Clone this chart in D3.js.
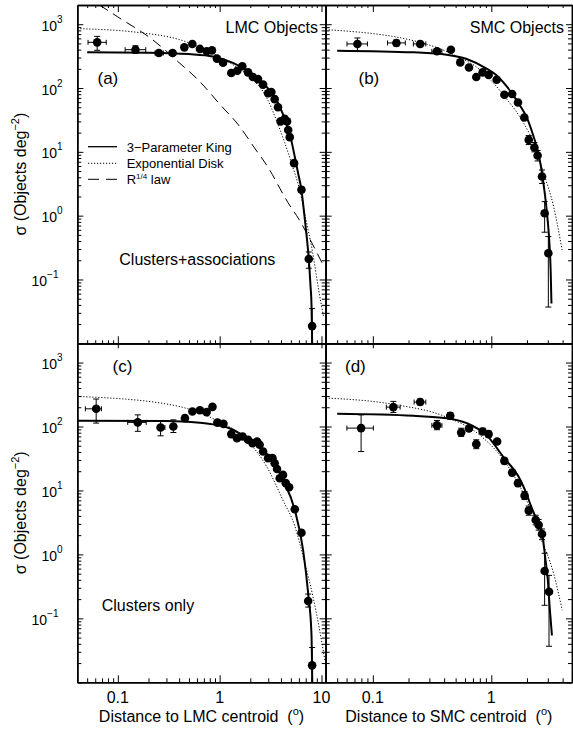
<!DOCTYPE html>
<html><head><meta charset="utf-8">
<script src="https://cdn.jsdelivr.net/npm/d3@7"></script>
<style>
body{margin:0;background:#fff}
svg{display:block}
text{font-family:"Liberation Sans",Arial,Helvetica,sans-serif;fill:#000}
</style>
</head><body>
<svg id="chart" width="573" height="731"></svg>
<script>
// ---------------- data ----------------
const lmcRange = [0.04, 11];
const smcRange = [0.04, 4.8];
const sigmaRange = [0.01, 2000];
const yMajor = [0.01, 0.1, 1, 10, 100, 1000];
const yLabelExps = [3, 2, 1, 0, -1];
const lmcMajor = [0.1, 1, 10];
const smcMajor = [0.1, 1];
const lmcTickLabels = ["0.1", "1", "10"];
const smcTickLabels = ["0.1", "1"];
const panelTags = ["(a)", "(b)", "(c)", "(d)"];
const regionTitles = ["LMC Objects", "SMC Objects"];
const sampleNotes = ["Clusters+associations", "Clusters only"];
const legendLabels = ["3\u2212Parameter King", "Exponential Disk", "R", "law"];
const xTitles = ["Distance to LMC centroid", "Distance to SMC centroid"];

// points: [r, sigma, sigmaLo, sigmaHi, rLo, rHi]
const aPts = [
  [0.0627,520,390,645,0.051,0.077],[0.149,399,350,460,0.118,0.188],[0.253,354,322,388,0.232,0.28],
  [0.345,354,326,384,0.32,0.37],[0.45,434],[0.539,490],[0.64,410],[0.745,376],[0.84,389],[0.94,289],
  [1.08,250],[1.30,172],[1.49,187],[1.67,219],[1.90,176],[2.12,149],[2.38,138],[2.67,113],[2.99,83],
  [3.22,86.5],[3.47,67],[3.74,50],[3.97,30],[4.35,33],[4.59,30],[4.71,22],[4.88,17],[5.38,6.65],
  [6.36,2.55,2.3,2.8],[7.5,0.209,0.15,0.27],[8.09,0.0186,0.004,0.035]
];
const bPts = [
  [0.0741,491,376,609,0.0605,0.090],[0.158,509,455,565,0.133,0.188],[0.251,491,445,540,0.22,0.28],
  [0.348,376,345,410,0.315,0.383],[0.456,399],[0.547,252],[0.648,210],[0.747,149],[0.845,176],
  [0.949,160],[1.11,135],[1.29,78.5],[1.50,80.5],[1.68,59.4],[1.90,34.5],[2.07,15.4,13,18],
  [2.31,11.7,10,14],[2.46,8.75,7.2,10.5],[2.68,4.1,3.2,5.2],[2.82,1.09,0.55,1.66],[3.03,0.257,0.037,0.47]
];
const cPts = [
  [0.0613,189,113,269,0.048,0.069],[0.157,116,84,152,0.125,0.19],[0.263,96.4,71.5,120,0.245,0.29],
  [0.351,100,80.5,127,0.33,0.37],[0.456,135,121,150],[0.54,172],[0.64,180],[0.745,168],[0.85,203],
  [0.95,115],[1.09,110],[1.30,76],[1.48,65.8],[1.68,69.7],[1.90,62],[2.10,55],[2.33,58],[2.47,51.7],
  [2.67,40.6],[2.99,32],[3.30,32],[3.47,26.7],[3.66,21.7],[3.89,15.5],[4.19,17.5],[4.46,13],
  [4.81,11.2],[5.47,5.07],[6.36,2.18],[7.4,0.187,0.15,0.24],[8.09,0.0184,0.004,0.035]
];
const dPts = [
  [0.0796,94.4,40.6,152,0.0604,0.101],[0.149,201,166,247,0.13,0.17],[0.251,241,217,268,0.223,0.28],
  [0.348,104,89,124,0.315,0.383],[0.45,147,130,165],[0.557,80.5,70,94],[0.648,93,84,103],
  [0.747,53,45,62],[0.845,83.6,75,94],[0.949,76,69,85],[1.12,58.2],[1.29,29,26,32],[1.50,19,17,21],
  [1.68,13,11.5,14.6],[1.91,8.3,7.2,9.6],[2.07,4.83,4.1,5.7],[2.37,3.45,2.9,4.1],[2.51,2.88,2.4,3.5],
  [2.68,2.08,1.7,2.5],[2.82,0.55,0.16,1.04],[3.07,0.26,0.0366,0.47]
];

// fitted curves: [r, sigma]
const aKing = [[0.05,363],[0.2,358],[0.5,340],[0.86,313],[1.08,280],[1.35,248],[1.69,206],[2.1,165],
  [2.66,120],[3.2,86],[3.61,65],[4.1,42],[4.53,28],[5.06,15],[5.5,8],[5.9,4.6],[6.36,2.5],[6.8,1.0],
  [7.13,0.5],[7.5,0.21],[7.8,0.08],[7.98,0.04],[8.09,0.011],[8.13,0.0085]];
const aExp = [[0.04,853],[0.164,738],[0.404,573],[0.797,371],[1.4,224],[1.97,151],[2.9,70],[3.64,30],
  [4.35,14],[5.1,6.5],[6.12,2.5],[7.17,0.75],[8.21,0.26],[9.36,0.07],[10.5,0.0257]];
const aR14 = [[0.066,2000],[0.1,1300],[0.219,573],[0.4,250],[0.636,127],[1.0,56],[1.57,25],[2.2,11.5],
  [3.1,5.2],[3.89,2.7],[4.69,1.6],[6.0,0.88],[8.0,0.38],[10.39,0.168]];
const bKing = [[0.05,385],[0.22,362],[0.42,333],[0.62,285],[0.92,200],[1.1,160],[1.36,104],[1.76,52],
  [2.0,34],[2.2,21],[2.43,11.5],[2.6,6.5],[2.77,3.0],[2.9,1.5],[3.0,0.8],[3.1,0.35],[3.17,0.14],[3.22,0.042]];
const bExp = [[0.04,823],[0.25,520],[0.48,333],[0.81,190],[0.98,135],[1.36,66],[1.88,28],[2.28,13.7],
  [2.77,4.6],[3.36,1.38],[3.96,0.29]];
const cKing = [[0.04,123],[0.3,122],[0.64,114],[0.86,108],[1.35,89],[1.57,78],[1.97,62],[2.88,38],
  [4.19,14.6],[5.47,4.95],[6.6,1.17],[7.4,0.245],[7.97,0.058],[8.12,0.0095]];
const cExp = [[0.04,295],[0.3,225],[0.86,133],[1.97,55],[2.88,24],[4.19,7],[5.46,2.8],[6.87,0.72],
  [8.26,0.216],[9.6,0.065],[10.8,0.022]];
const dKing = [[0.05,158],[0.22,147],[0.42,135],[0.62,113],[0.92,72],[1.27,33],[1.76,14.6],[2.0,8.5],
  [2.14,6.0],[2.43,3.4],[2.68,2.2],[2.86,0.85],[3.0,0.4],[3.11,0.15],[3.25,0.054]];
const dExp = [[0.04,279],[0.149,222],[0.42,140],[0.81,72],[1.36,25],[2.0,6.8],[2.6,1.85],[3.36,0.5],[3.97,0.134]];

// ---------------- layout ----------------
const svg = d3.select("#chart");
const colL = [77.3, 325.7], colR = [325.7, 572];
const rowT = [5, 343.3], rowB = [343.3, 682.3];

const xL = d3.scaleLog().domain(lmcRange).range(colL);
const xR = d3.scaleLog().domain(smcRange).range(colR);
const yT = d3.scaleLog().domain(sigmaRange).range([rowT[1], rowT[0]]);
const yB = d3.scaleLog().domain(sigmaRange).range([rowB[1], rowB[0]]);

function minorsFor(range) {
  const out = [];
  for (let e = -3; e <= 4; e++) for (let m = 2; m <= 9; m++) {
    const v = m * Math.pow(10, e);
    if (v > range[0] * 1.0001 && v < range[1] * 0.9999) out.push(v);
  }
  return out;
}
const yMinor = minorsFor(sigmaRange);
const lmcMinor = minorsFor(lmcRange);
const smcMinor = minorsFor(smcRange);

const panels = [
  {tag:0, x:xL, y:yT, col:colL, row:rowT, pts:aPts, king:aKing, exp:aExp, r14:aR14},
  {tag:1, x:xR, y:yT, col:colR, row:rowT, pts:bPts, king:bKing, exp:bExp},
  {tag:2, x:xL, y:yB, col:colL, row:rowB, pts:cPts, king:cKing, exp:cExp},
  {tag:3, x:xR, y:yB, col:colR, row:rowB, pts:dPts, king:dKing, exp:dExp}
];

panels.forEach((p, i) => {
  const g = svg.append("g");
  const cid = "clip" + i;
  svg.append("clipPath").attr("id", cid).append("rect")
    .attr("x", p.col[0]).attr("y", p.row[0])
    .attr("width", p.col[1] - p.col[0]).attr("height", p.row[1] - p.row[0]);
  const gc = g.append("g").attr("clip-path", `url(#${cid})`);
  const line = d3.line().x(d => p.x(d[0])).y(d => p.y(d[1])).curve(d3.curveMonotoneX);

  if (p.r14) gc.append("path").attr("d", line(p.r14)).attr("fill", "none")
    .attr("stroke", "#000").attr("stroke-width", 1).attr("stroke-dasharray", "10,6");
  gc.append("path").attr("d", line(p.exp)).attr("fill", "none")
    .attr("stroke", "#000").attr("stroke-width", 1).attr("stroke-dasharray", "1.2,1.8");
  gc.append("path").attr("d", line(p.king)).attr("fill", "none")
    .attr("stroke", "#000").attr("stroke-width", 2);

  // error bars
  p.pts.forEach(d => {
    const cx = p.x(d[0]), cy = p.y(d[1]);
    if (d[2] != null) {
      const y1 = p.y(d[2]), y2 = p.y(d[3]);
      gc.append("line").attr("x1", cx).attr("x2", cx).attr("y1", y1).attr("y2", y2)
        .attr("stroke", "#000").attr("stroke-width", 1);
      [y1, y2].forEach(yy => gc.append("line").attr("x1", cx - 3).attr("x2", cx + 3)
        .attr("y1", yy).attr("y2", yy).attr("stroke", "#000").attr("stroke-width", 1));
    }
    if (d[4] != null) {
      const x1 = p.x(d[4]), x2 = p.x(d[5]);
      gc.append("line").attr("x1", x1).attr("x2", x2).attr("y1", cy).attr("y2", cy)
        .attr("stroke", "#000").attr("stroke-width", 1);
      [x1, x2].forEach(xx => gc.append("line").attr("x1", xx).attr("x2", xx)
        .attr("y1", cy - 2.5).attr("y2", cy + 2.5).attr("stroke", "#000").attr("stroke-width", 1));
    }
  });
  gc.selectAll("circle.pt").data(p.pts).enter().append("circle")
    .attr("cx", d => p.x(d[0])).attr("cy", d => p.y(d[1])).attr("r", 4.3).attr("fill", "#000");

  // axes (frame + ticks)
  const majX = p.x === xL ? lmcMajor : smcMajor;
  const minX = p.x === xL ? lmcMinor : smcMinor;
  const isTop = p.row === rowT, isLeft = p.col === colL;
  function ax(gen, vals, size, tx, ty) {
    const a = g.append("g").attr("transform", `translate(${tx},${ty})`)
      .call(gen.tickValues(vals).tickSize(size).tickSizeOuter(0).tickFormat(""));
    a.selectAll("path").attr("stroke", "#000").attr("stroke-width", 1.5);
    a.selectAll("line").attr("stroke", "#000").attr("stroke-width", 1);
    return a;
  }
  // top edge (ticks pointing down into panel)
  ax(d3.axisBottom(p.x), majX, isTop ? 7 : 5, 0, p.row[0]);
  ax(d3.axisBottom(p.x), minX, isTop ? 3 : 1.5, 0, p.row[0]);
  // bottom edge (ticks pointing up)
  ax(d3.axisTop(p.x), majX, 7, 0, p.row[1]);
  ax(d3.axisTop(p.x), minX, isTop ? 3 : 4, 0, p.row[1]);
  // left edge (ticks pointing right)
  ax(d3.axisRight(p.y), yMajor, 6, p.col[0], 0);
  ax(d3.axisRight(p.y), yMinor, isLeft ? 4 : 4, p.col[0], 0);
  // right edge (ticks pointing left)
  ax(d3.axisLeft(p.y), yMajor, 6, p.col[1], 0);
  ax(d3.axisLeft(p.y), yMinor, 4, p.col[1], 0);

  // panel tag
  const tagPos = [[97.5, 84], [358.5, 84], [112.5, 372], [345, 372]][i];
  g.append("text").attr("x", tagPos[0]).attr("y", tagPos[1]).attr("font-size", 17).text(panelTags[p.tag]);
});

// region titles
svg.append("text").attr("x", 318).attr("y", 33).attr("text-anchor", "end").attr("font-size", 16).text(regionTitles[0]);
svg.append("text").attr("x", 564).attr("y", 33).attr("text-anchor", "end").attr("font-size", 16).text(regionTitles[1]);
// sample notes
svg.append("text").attr("x", 119.3).attr("y", 265).attr("font-size", 16).text(sampleNotes[0]);
svg.append("text").attr("x", 101.7).attr("y", 610.7).attr("font-size", 16).text(sampleNotes[1]);

// legend
const lg = svg.append("g");
const legY = [146.7, 163.3, 179.3];
lg.append("line").attr("x1", 88).attr("x2", 117).attr("y1", legY[0]).attr("y2", legY[0]).attr("stroke", "#000").attr("stroke-width", 1.3);
lg.append("line").attr("x1", 88).attr("x2", 117).attr("y1", legY[1]).attr("y2", legY[1]).attr("stroke", "#000").attr("stroke-width", 1).attr("stroke-dasharray", "1.2,1.8");
lg.append("line").attr("x1", 88).attr("x2", 117).attr("y1", legY[2]).attr("y2", legY[2]).attr("stroke", "#000").attr("stroke-width", 1).attr("stroke-dasharray", "11,7");
lg.append("text").attr("x", 126.7).attr("y", legY[0] + 5).attr("font-size", 13).text(legendLabels[0]);
lg.append("text").attr("x", 126.7).attr("y", legY[1] + 5).attr("font-size", 13).text(legendLabels[1]);
const rt = lg.append("text").attr("x", 126.7).attr("y", legY[2] + 5).attr("font-size", 13);
rt.append("tspan").text(legendLabels[2]);
rt.append("tspan").attr("dy", -5).attr("font-size", 8).text("1/4");
rt.append("tspan").attr("dy", 5).text(" " + legendLabels[3]);

// y tick labels
[yT, yB].forEach(ys => {
  yLabelExps.forEach(e => {
    const yy = ys(Math.pow(10, e));
    const t = svg.append("text").attr("x", e < 0 ? 31.5 : 41.5).attr("y", yy + 6.5).attr("font-size", 14);
    t.append("tspan").text("10");
    t.append("tspan").attr("dy", -8).attr("font-size", 10).text(e < 0 ? "\u2212" + (-e) : String(e));
  });
  const cy = (ys.range()[0] + ys.range()[1]) / 2;
  const yl = svg.append("text").attr("transform", `translate(26,${cy}) rotate(-90)`)
    .attr("text-anchor", "middle").attr("font-size", 16);
  yl.append("tspan").text("\u03c3 (Objects deg");
  yl.append("tspan").attr("dy", -7).attr("font-size", 11).text("\u22122");
  yl.append("tspan").attr("dy", 7).text(")");
});

// x tick labels
lmcMajor.forEach((v, k) => svg.append("text").attr("x", xL(v)).attr("y", 703).attr("text-anchor", "middle").attr("font-size", 16).text(lmcTickLabels[k]));
smcMajor.forEach((v, k) => svg.append("text").attr("x", xR(v)).attr("y", 703).attr("text-anchor", "middle").attr("font-size", 16).text(smcTickLabels[k]));

// x titles
[[colL, 0], [colR, 1]].forEach(([c, k]) => {
  const t = svg.append("text").attr("x", (c[0] + c[1]) / 2).attr("y", 722).attr("text-anchor", "middle").attr("font-size", 16);
  t.append("tspan").text(xTitles[k] + "\u00a0\u00a0(");
  t.append("tspan").attr("dy", -7).attr("font-size", 11).text("o");
  t.append("tspan").attr("dy", 7).text(")");
});
</script>
</body></html>
